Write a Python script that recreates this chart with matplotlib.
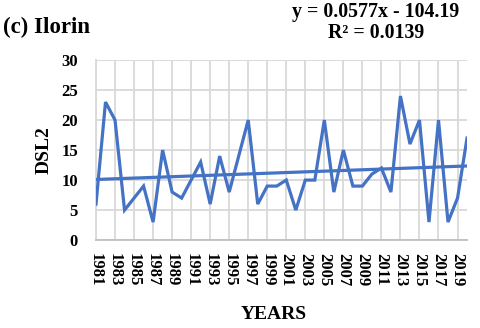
import numpy as np
import matplotlib.pyplot as plt

# DSL2 series for Ilorin, 1981-2020
years = np.arange(1981, 2021)
dsl2 = [6, 23, 20, 5, 7, 9, 3, 15, 8, 7,
        10, 13, 6, 14, 8, 14, 20, 6, 9, 9,
        10, 5, 10, 10, 20, 8, 15, 9, 9, 11,
        12, 8, 24, 16, 20, 3, 20, 3, 7, 17]
tick_years = np.arange(1981, 2020, 2)

plt.rcParams['font.family'] = ['Liberation Serif', 'DejaVu Serif']
plt.rcParams['font.weight'] = 'bold'

fig = plt.figure(figsize=(4.8, 3.28), dpi=100)
ax = fig.add_axes([0.2, 0.268, 0.773, 0.549])

blue = '#4472C4'
ax.plot(years, dsl2, color=blue, lw=2.3, solid_joinstyle='miter', zorder=3)

# linear trend
slope, intercept = np.polyfit(years, dsl2, 1)
ax.plot(years, slope * years + intercept, color=blue, lw=2.3, zorder=3)

ax.set_xlim(1981, 2020)
ax.set_ylim(0, 30)
ax.set_yticks(range(0, 31, 5))
ax.set_xticks(tick_years)
ax.set_xticklabels([str(y) for y in tick_years], rotation=270, fontsize=12,
                   fontweight='bold')
ax.tick_params(axis='y', labelsize=12, length=0, pad=13)
ax.tick_params(axis='x', length=0, pad=9)

ax.grid(True, color='#d9d9d9', lw=1.3, zorder=0)
ax.set_axisbelow(True)
for s in ['top', 'right']:
    ax.spines[s].set_visible(False)
ax.spines['left'].set_color('#d9d9d9')
ax.spines['bottom'].set_color('#bfbfbf')
ax.spines['left'].set_linewidth(1.3)
ax.spines['bottom'].set_linewidth(1.3)

ax.set_ylabel('DSL2', fontsize=14, fontweight='bold', labelpad=6)
ax.set_xlabel('YEARS', fontsize=14, fontweight='bold', va='center')
ax.xaxis.set_label_coords(0.48, -0.415)

fig.text(0.006, 0.899, '(c) Ilorin', fontsize=16.5, fontweight='bold',
         va='baseline')
fig.text(0.783, 0.949, 'y = 0.0577x - 104.19', fontsize=14.3,
         fontweight='bold', ha='center', va='baseline')
fig.text(0.783, 0.884, 'R\u00b2 = 0.0139', fontsize=14.3,
         fontweight='bold', ha='center', va='baseline')

fig.savefig('out.png', dpi=100)
